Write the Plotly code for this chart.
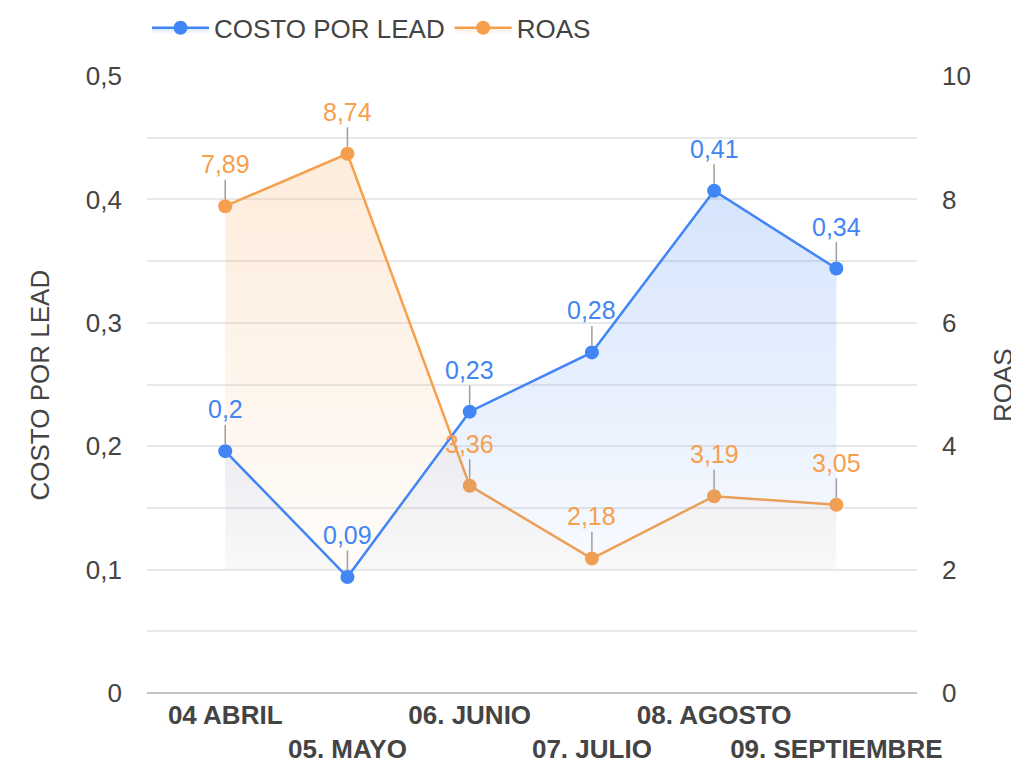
import plotly.graph_objects as go

categories = ["04 ABRIL", "05. MAYO", "06. JUNIO", "07. JULIO", "08. AGOSTO", "09. SEPTIEMBRE"]
costo_por_lead = [0.196, 0.094, 0.228, 0.276, 0.407, 0.344]
roas = [7.89, 8.74, 3.36, 2.18, 3.19, 3.05]
costo_ticks = [0, 0.1, 0.2, 0.3, 0.4, 0.5]
costo_ticktext = ["0", "0,1", "0,2", "0,3", "0,4", "0,5"]
roas_ticks = [0, 1, 2, 3, 4, 5, 6, 7, 8, 9, 10]
roas_ticktext = ["0", "", "2", "", "4", "", "6", "", "8", "", "10"]
costo_fill_base = [0.1] * len(categories)
roas_fill_base = [2] * len(categories)

BLUE = "#4285f4"
ORANGE = "#f6a04d"
TXT = "#444444"
FONT = "Liberation Sans, Arial, sans-serif"


def fmt(v):
    s = f"{v:.2f}".rstrip("0").rstrip(".")
    return s.replace(".", ",")


# staggered tick labels
ticktext_x = [c if i % 2 == 0 else "<br>" + c for i, c in enumerate(categories)]

fig = go.Figure()

# ROAS (right axis) with gradient area down to its baseline
fig.add_trace(go.Scatter(
    x=categories, y=roas_fill_base, yaxis="y", mode="lines",
    line=dict(width=0, color="rgba(0,0,0,0)"), showlegend=False, hoverinfo="skip"))
fig.add_trace(go.Scatter(
    x=categories, y=roas, name="ROAS", yaxis="y",
    mode="lines+markers",
    line=dict(color=ORANGE, width=2.5),
    marker=dict(color=ORANGE, size=14),
    fill="tonexty",
    fillgradient=dict(
        type="vertical",
        colorscale=[[0, "rgba(246,160,77,0.03)"], [1, "rgba(246,160,77,0.2)"]]),
))

# COSTO POR LEAD (left axis) with gradient area down to its baseline
fig.add_trace(go.Scatter(
    x=categories, y=costo_fill_base, yaxis="y2", mode="lines",
    line=dict(width=0, color="rgba(0,0,0,0)"), showlegend=False, hoverinfo="skip"))
fig.add_trace(go.Scatter(
    x=categories, y=costo_por_lead, name="COSTO POR LEAD", yaxis="y2",
    mode="lines+markers",
    line=dict(color=BLUE, width=2.5),
    marker=dict(color=BLUE, size=14),
    fill="tonexty",
    fillgradient=dict(
        type="vertical",
        colorscale=[[0, "rgba(66,133,244,0.03)"], [1, "rgba(66,133,244,0.22)"]]),
))

annotations = []
for c, v in zip(categories, costo_por_lead):
    annotations.append(dict(
        x=c, y=v, xref="x", yref="y2", text=fmt(v),
        showarrow=True, arrowhead=0, arrowwidth=1.5, arrowcolor="#9e9e9e",
        ax=0, ay=-42, standoff=7,
        font=dict(family=FONT, size=25, color=BLUE)))
for c, v in zip(categories, roas):
    annotations.append(dict(
        x=c, y=v, xref="x", yref="y", text=fmt(v),
        showarrow=True, arrowhead=0, arrowwidth=1.5, arrowcolor="#9e9e9e",
        ax=0, ay=-42, standoff=7,
        font=dict(family=FONT, size=25, color=ORANGE)))

annotations.append(dict(
    x=-0.139, y=0.5, xref="paper", yref="paper", text="COSTO POR LEAD",
    textangle=-90, showarrow=False, xanchor="center", yanchor="middle",
    font=dict(family=FONT, size=26, color=TXT)))
annotations.append(dict(
    x=1.111, y=0.5, xref="paper", yref="paper", text="ROAS",
    textangle=-90, showarrow=False, xanchor="center", yanchor="middle",
    font=dict(family=FONT, size=26, color=TXT)))

fig.update_layout(
    width=1011, height=755,
    margin=dict(l=139, r=102, t=68, b=70, autoexpand=False),
    plot_bgcolor="white", paper_bgcolor="white",
    font=dict(family=FONT, size=26, color=TXT),
    showlegend=True,
    legend=dict(orientation="h", x=0, xanchor="left", y=1.078, yanchor="middle",
                traceorder="reversed", font=dict(size=26, color=TXT),
                itemwidth=57, bgcolor="rgba(0,0,0,0)"),
    xaxis=dict(
        type="category", range=[-0.64, 5.66],
        tickvals=categories, ticktext=ticktext_x, tickangle=0, automargin=False,
        tickfont=dict(family=FONT, size=26, color=TXT, weight="bold"),
        showgrid=False, showline=False, zeroline=False, ticks="",
        ticklabelstandoff=4,
    ),
    yaxis=dict(
        side="right", range=[0, 10], automargin=False,
        tickvals=roas_ticks, ticktext=roas_ticktext,
        showgrid=True, gridcolor="#e8e8e8", gridwidth=1.5,
        zeroline=True, zerolinecolor="#c4c4c4", zerolinewidth=2,
        tickfont=dict(family=FONT, size=26, color=TXT),
        ticks="", ticklabelstandoff=24,
    ),
    yaxis2=dict(
        side="left", overlaying="y", range=[0, 0.5], automargin=False,
        tickvals=costo_ticks, ticktext=costo_ticktext,
        showgrid=False, zeroline=False,
        tickfont=dict(family=FONT, size=26, color=TXT),
        ticks="", ticklabelstandoff=24,
    ),
    annotations=annotations,
)

fig.write_html("out.html")
